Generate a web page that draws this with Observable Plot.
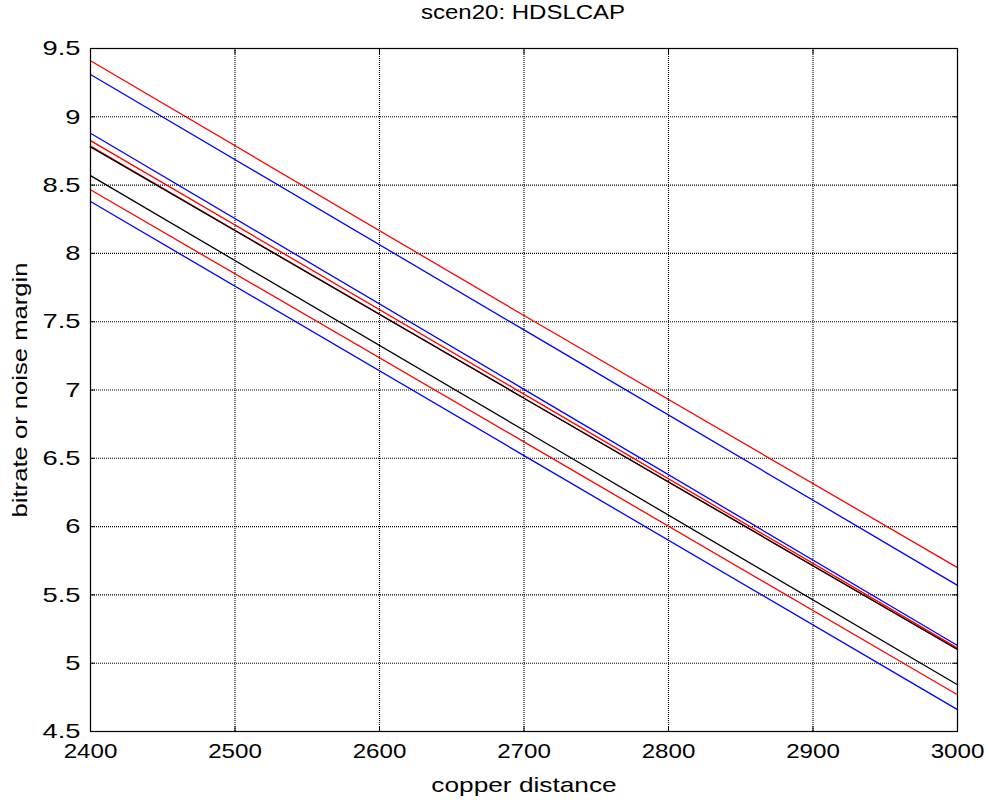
<!DOCTYPE html>
<html>
<head>
<meta charset="utf-8">
<script src="https://cdn.jsdelivr.net/npm/d3@7"></script>
<script src="https://cdn.jsdelivr.net/npm/@observablehq/plot@0.6"></script>
<style>
  html, body { margin: 0; padding: 0; background: #fff; }
  #title { height: 24px; line-height: 25px; padding-left: 90px; width: 867px; text-align: center;
           font-family: "Liberation Sans", Arial, sans-serif; font-size: 20px; color: #000; overflow: visible; }
  #title span { display: inline-block; transform: scaleX(1.2); transform-origin: center; }
  svg { display: block; }
</style>
</head>
<body>
<div id="title"><span>scen20: HDSLCAP</span></div>
<div id="chart"></div>
<script>
// copper distance samples (x)
const distance = [2400, 2700, 3000];
// series values
const red1   = [9.41, 7.545, 5.70];
const blue1  = [9.31, 7.44, 5.57];
const blue2  = [8.88, 7.005, 5.13];
const red2   = [8.826, 6.97, 5.11];
const red3   = [8.785, 6.94, 5.10];
const black1 = [8.78, 6.94, 5.10];
const black2 = [8.569, 6.705, 4.842];
const red4   = [8.466, 6.62, 4.769];
const blue3  = [8.38, 6.52, 4.66];

const xTicks = [2400, 2500, 2600, 2700, 2800, 2900, 3000];
const yTicks = [4.5, 5, 5.5, 6, 6.5, 7, 7.5, 8, 8.5, 9, 9.5];
const xTitle = "copper distance";
const yTitle = "bitrate or noise margin";

const seriesList = [
  {name: "red1", color: "#ff0000", values: red1},
  {name: "blue1", color: "#0000ff", values: blue1},
  {name: "blue2", color: "#0000ff", values: blue2},
  {name: "red2", color: "#ff0000", values: red2},
  {name: "blue3", color: "#0000ff", values: blue3},
  {name: "red4", color: "#ff0000", values: red4},
  {name: "black2", color: "#000000", values: black2},
  {name: "red3", color: "#ff0000", values: red3},
  {name: "black1", color: "#000000", values: black1}
];
const rows = seriesList.flatMap(s => distance.map((d, i) => ({series: s.name, color: s.color, x: d, y: s.values[i]})));

const font = "'Liberation Sans', Arial, sans-serif";
const chart = Plot.plot({
  width: 989,
  height: 783,
  marginLeft: 90,
  marginRight: 32,
  marginTop: 24,
  marginBottom: 76,
  style: {fontFamily: font, fontSize: "21px", color: "#000", background: "#fff"},
  x: {domain: [2400, 3000], ticks: xTicks},
  y: {domain: [4.5, 9.5], ticks: yTicks},
  marks: [
    Plot.ruleX(xTicks, {stroke: "#000", strokeDasharray: "1,1", strokeWidth: 1.1}),
    Plot.ruleY(yTicks, {stroke: "#000", strokeDasharray: "1,1", strokeWidth: 1.1}),
    Plot.axisX({ticks: xTicks, tickSize: 0, tickPadding: 12, tickFormat: d => String(d), label: null, fontSize: 21}),
    Plot.axisY({ticks: yTicks, tickSize: 0, tickPadding: 10, tickFormat: d => String(d), label: null, fontSize: 21}),
    Plot.axisX({ticks: xTicks, anchor: "bottom", tickSize: -5, tickFormat: () => "", label: null}),
    Plot.axisX({ticks: xTicks, anchor: "top", tickSize: -5, tickFormat: () => "", label: null}),
    Plot.axisY({ticks: yTicks, anchor: "left", tickSize: -5, tickFormat: () => "", label: null}),
    Plot.axisY({ticks: yTicks, anchor: "right", tickSize: -5, tickFormat: () => "", label: null}),
    Plot.line(rows, {x: "x", y: "y", z: "series", stroke: "color", strokeWidth: 1.3}),
    Plot.frame({stroke: "#000", strokeWidth: 1.2}),
    Plot.text([xTitle], {frameAnchor: "bottom", dy: 60, fontSize: 21, fill: "#000"}),
    Plot.text([yTitle], {frameAnchor: "left", dx: -70, rotate: -90, textAnchor: "middle", fontSize: 21, fill: "#000"})
  ]
});
document.getElementById("chart").appendChild(chart);

// horizontal stretch of the glyphs, as in the reference rendering
d3.select(chart).selectAll("text").each(function() {
  const s = this.textContent.trim();
  if (!s) return;
  let factor = 1;
  if (s === xTitle) factor = 1.25;
  else if (s === yTitle) factor = 1.22;
  else if (/^\d{4}$/.test(s)) factor = 1.15;
  else if (/^\d(\.\d)?$/.test(s)) factor = 1.3;
  const w = this.getComputedTextLength();
  if (w > 0 && factor !== 1) {
    this.setAttribute("textLength", (w * factor).toFixed(1));
    this.setAttribute("lengthAdjust", "spacingAndGlyphs");
  }
});
</script>
</body>
</html>
